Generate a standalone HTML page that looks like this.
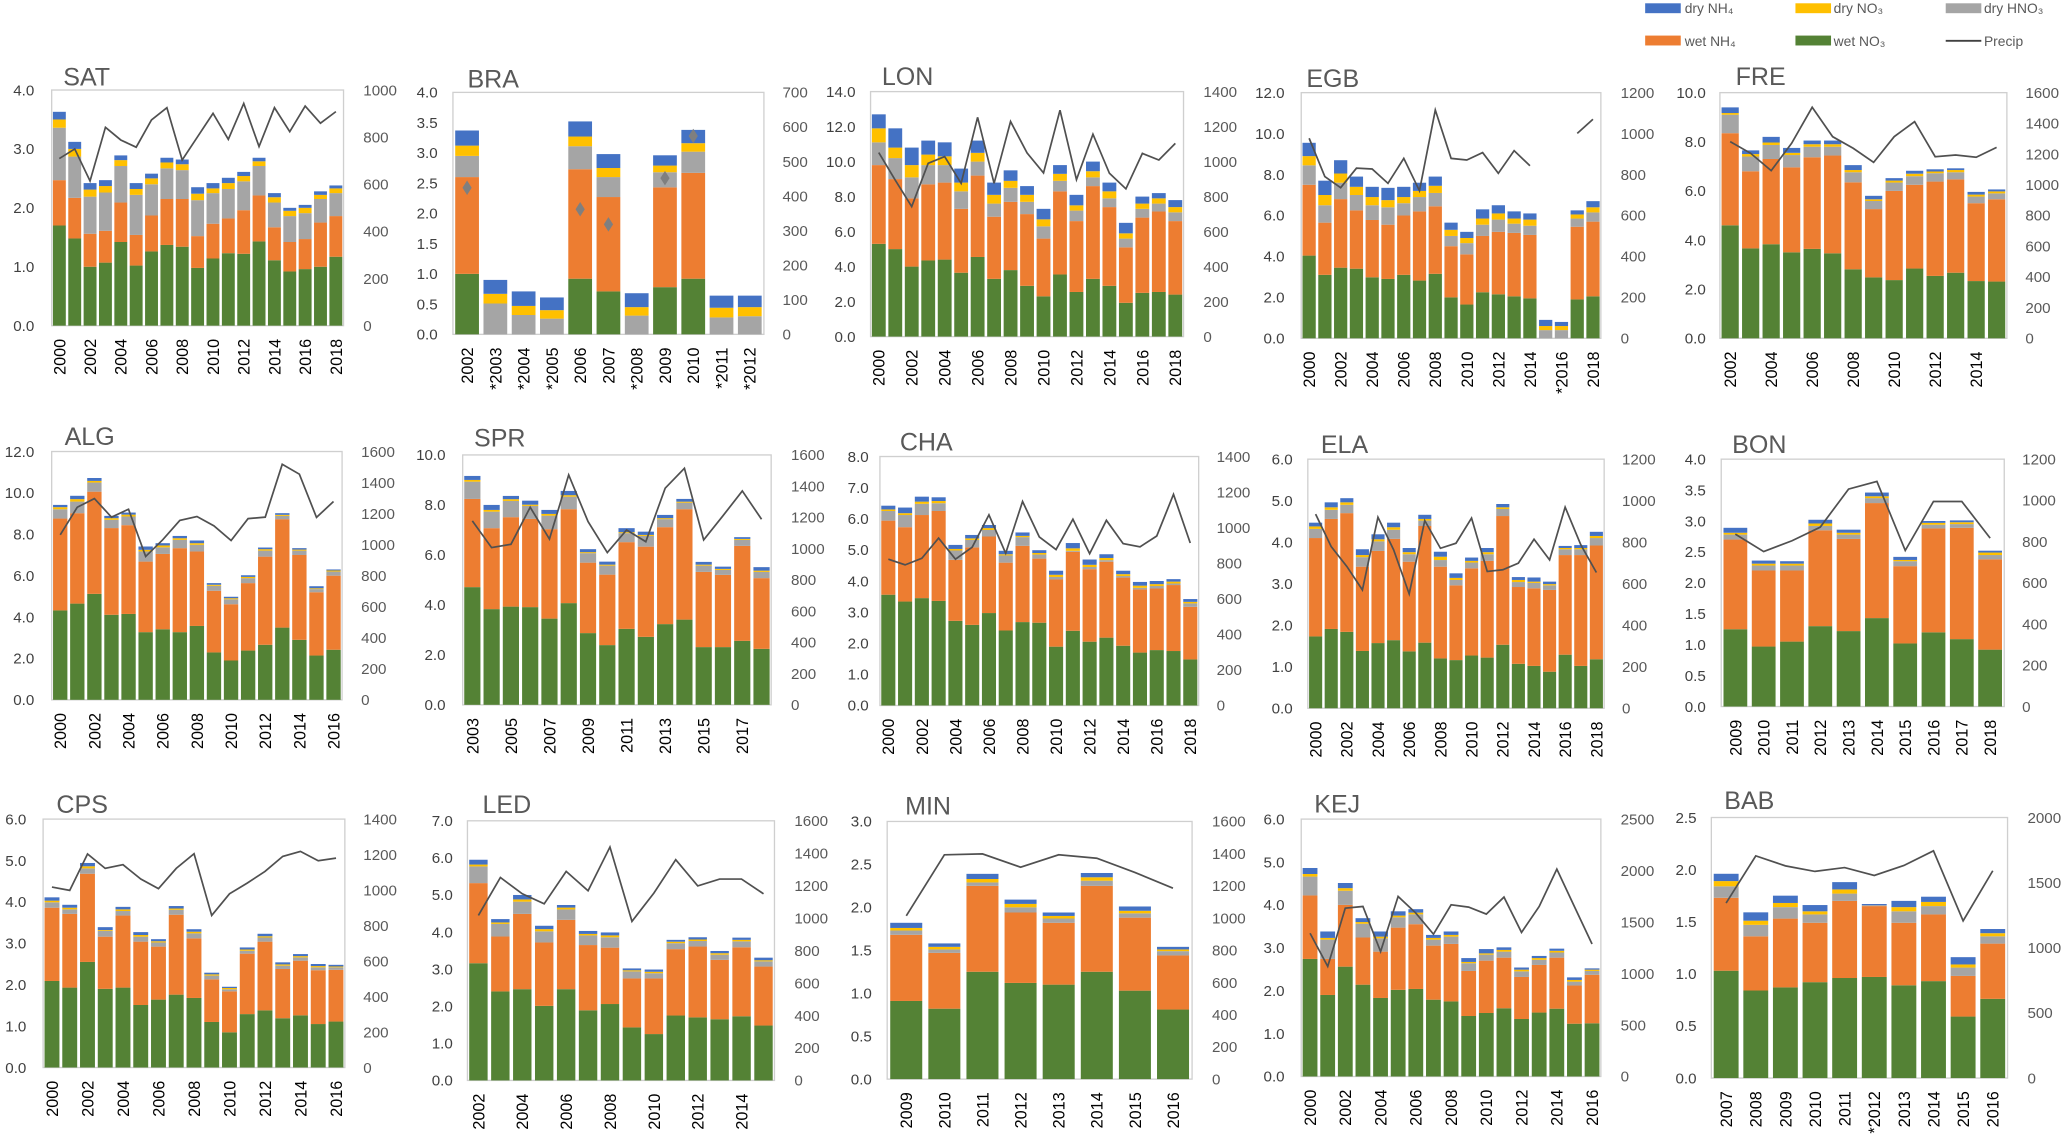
<!DOCTYPE html>
<html><head><meta charset="utf-8"><style>
html,body{margin:0;padding:0;background:#fff;}
svg{display:block;font-family:"Liberation Sans",sans-serif;}
</style></head><body>
<svg id="c" width="2067" height="1140" viewBox="0 0 1568 865" preserveAspectRatio="none" xmlns="http://www.w3.org/2000/svg">
<g font-size="10.5" fill="#595959">
<rect x="1248" y="2.5" width="27" height="7.5" fill="#4472C4"/>
<text x="1278" y="10">dry NH₄</text>
<rect x="1362" y="2.5" width="27" height="7.5" fill="#FFC000"/>
<text x="1391" y="10">dry NO₃</text>
<rect x="1476" y="2.5" width="27" height="7.5" fill="#A5A5A5"/>
<text x="1505" y="10">dry HNO₃</text>
<rect x="1248" y="27" width="27" height="7.5" fill="#ED7D31"/>
<text x="1278" y="35">wet NH₄</text>
<rect x="1362" y="27" width="27" height="7.5" fill="#548235"/>
<text x="1391" y="35">wet NO₃</text>
<line x1="1476" y1="31" x2="1503" y2="31" stroke="#404040" stroke-width="1.4"/>
<text x="1505" y="35">Precip</text>
</g>
</svg>
<script>
// Stack arrays are cumulative stack tops for: wet NO3, +wet NH4, +dry HNO3, +dry NO3, +dry NH4
const SAT_cat=["2000","2001","2002","2003","2004","2005","2006","2007","2008","2009","2010","2011","2012","2013","2014","2015","2016","2017","2018"];
const SAT_wno3=[1.7,1.48,1.0,1.07,1.42,1.02,1.26,1.37,1.34,0.98,1.14,1.23,1.22,1.43,1.11,0.92,0.96,1.0,1.17];
const SAT_wnh4=[2.47,2.17,1.56,1.61,2.09,1.54,1.87,2.15,2.15,1.52,1.73,1.82,1.96,2.21,1.67,1.42,1.47,1.75,1.86];
const SAT_dhno3=[3.36,2.87,2.19,2.26,2.71,2.22,2.40,2.67,2.64,2.13,2.25,2.32,2.45,2.71,2.09,1.86,1.91,2.15,2.25];
const SAT_dno3=[3.50,3.0,2.31,2.37,2.81,2.32,2.50,2.77,2.74,2.24,2.33,2.42,2.54,2.79,2.18,1.95,2.0,2.22,2.33];
const SAT_dnh4=[3.63,3.12,2.42,2.47,2.89,2.42,2.58,2.85,2.82,2.35,2.42,2.51,2.61,2.85,2.25,2.0,2.05,2.28,2.38];
const SAT_precip=[709,750,614,842,788,757,873,925,703,802,901,791,943,760,925,823,932,859,908];

const BRA_cat=["2002","*2003","*2004","*2005","2006","2007","*2008","2009","2010","*2011","*2012"];
const BRA_wno3=[1.0,0,0,0,0.92,0.71,0,0.78,0.92,0,0];
const BRA_wnh4=[2.6,0,0,0,2.73,2.27,0,2.43,2.67,0,0];
const BRA_dhno3=[2.95,0.51,0.32,0.26,3.11,2.6,0.31,2.68,3.02,0.28,0.3];
const BRA_dno3=[3.12,0.67,0.47,0.40,3.27,2.75,0.45,2.79,3.16,0.44,0.45];
const BRA_dnh4=[3.37,0.9,0.71,0.61,3.52,2.98,0.68,2.96,3.38,0.64,0.64];
const BRA_precip=[424,null,null,null,362,318,null,452,574,null,null];

const LON_cat=SAT_cat;
const LON_wno3=[5.3,5.0,4.0,4.35,4.4,3.65,4.55,3.3,3.8,2.9,2.3,3.55,2.55,3.3,2.9,1.93,2.5,2.55,2.4];
const LON_wnh4=[9.8,9.0,7.9,8.7,8.8,7.3,9.2,6.85,7.7,7.0,5.6,8.3,6.6,8.6,7.4,5.1,6.8,7.15,6.6];
const LON_dhno3=[11.1,10.2,9.1,9.8,9.8,8.3,10.0,7.6,8.5,7.7,6.3,8.9,7.2,9.1,7.9,5.6,7.3,7.6,7.1];
const LON_dno3=[11.9,10.8,9.8,10.4,10.3,8.8,10.5,8.1,8.9,8.1,6.7,9.3,7.5,9.45,8.3,5.9,7.6,7.9,7.4];
const LON_dnh4=[12.7,11.9,10.8,11.2,11.1,9.6,11.2,8.8,9.5,8.6,7.3,9.8,8.1,10.0,8.8,6.5,8.0,8.2,7.8];
const LON_precip=[1051,895,743,990,1029,876,1253,876,1229,1050,935,1294,897,1157,933,844,1047,1009,1104];

const EGB_cat=["2000","2001","2002","2003","2004","2005","2006","2007","2008","2009","2010","2011","2012","2013","2014","*2015","*2016","2017","2018"];
const EGB_wno3=[4.04,3.1,3.45,3.4,2.98,2.9,3.1,2.82,3.15,2.0,1.65,2.25,2.15,2.05,1.95,0,0,1.9,2.05];
const EGB_wnh4=[7.5,5.65,6.8,6.25,5.78,5.55,6.0,6.2,6.45,4.5,4.1,5.0,5.2,5.15,5.05,0,0,5.45,5.7];
const EGB_dhno3=[8.45,6.5,7.6,7.0,6.5,6.4,6.6,6.9,7.1,5.0,4.65,5.55,5.8,5.6,5.5,0.4,0.4,5.85,6.15];
const EGB_dno3=[8.9,7.0,8.05,7.4,6.9,6.75,6.9,7.2,7.45,5.3,4.9,5.85,6.1,5.85,5.8,0.6,0.6,6.05,6.4];
const EGB_dnh4=[9.55,7.7,8.7,7.9,7.4,7.35,7.4,7.6,7.9,5.65,5.2,6.3,6.5,6.2,6.1,0.9,0.8,6.25,6.7];
const EGB_precip=[977,790,736,831,827,757,879,721,1115,879,871,907,806,917,843,null,null,1001,1070];

const FRE_cat=["2002","2003","2004","2005","2006","2007","2008","2009","2010","2011","2012","2013","2014","2015"];
const FRE_wno3=[4.6,3.66,3.83,3.5,3.64,3.46,2.81,2.48,2.37,2.84,2.54,2.67,2.33,2.31];
const FRE_wnh4=[8.35,6.8,7.3,6.96,7.37,7.44,6.35,5.26,6.0,6.25,6.38,6.47,5.5,5.66];
const FRE_dhno3=[9.1,7.4,7.87,7.46,7.8,7.8,6.76,5.59,6.34,6.6,6.72,6.76,5.77,5.9];
const FRE_dno3=[9.17,7.5,7.97,7.55,7.9,7.9,6.85,5.66,6.42,6.7,6.79,6.85,5.85,5.98];
const FRE_dnh4=[9.4,7.65,8.2,7.75,8.05,8.05,7.05,5.8,6.52,6.82,6.88,6.92,5.96,6.06];
const FRE_precip=[1281,1205,1092,1270,1505,1313,1238,1146,1313,1411,1183,1194,1179,1244];

const ALG_cat=["2000","2001","2002","2003","2004","2005","2006","2007","2008","2009","2010","2011","2012","2013","2014","2015","2016"];
const ALG_wno3=[4.32,4.65,5.12,4.11,4.15,3.27,3.41,3.27,3.57,2.29,1.9,2.38,2.66,3.49,2.9,2.14,2.42];
const ALG_wnh4=[8.76,9.02,10.06,8.3,8.44,6.68,7.05,7.33,7.17,5.27,4.62,5.64,6.92,8.73,7.0,5.2,6.0];
const ALG_dhno3=[9.21,9.58,10.5,8.7,8.86,7.17,7.37,7.73,7.49,5.51,4.86,5.88,7.21,8.89,7.21,5.35,6.2];
const ALG_dno3=[9.31,9.7,10.58,8.78,8.95,7.25,7.46,7.81,7.57,5.56,4.91,5.94,7.28,8.94,7.26,5.39,6.25];
const ALG_dnh4=[9.42,9.86,10.72,8.89,9.05,7.41,7.57,7.92,7.7,5.64,4.98,6.02,7.36,9.02,7.33,5.49,6.3];
const ALG_precip=[1063,1241,1297,1177,1228,924,1031,1156,1181,1121,1027,1168,1177,1518,1454,1175,1278];

const SPR_cat=["2003","2004","2005","2006","2007","2008","2009","2010","2011","2012","2013","2014","2015","2016","2017","2018"];
const SPR_wno3=[4.71,3.83,3.93,3.91,3.45,4.07,2.87,2.39,3.04,2.72,3.23,3.41,2.31,2.31,2.56,2.24];
const SPR_wnh4=[8.24,7.07,7.51,7.44,7.03,7.83,5.69,5.21,6.51,6.33,7.11,7.83,5.32,5.2,6.36,5.07];
const SPR_dhno3=[8.93,7.73,8.16,7.96,7.57,8.33,6.07,5.57,6.87,6.76,7.43,8.09,5.57,5.4,6.6,5.32];
const SPR_dno3=[9.0,7.8,8.23,8.01,7.64,8.39,6.11,5.61,6.91,6.8,7.47,8.13,5.61,5.44,6.64,5.37];
const SPR_dnh4=[9.16,8.0,8.36,8.17,7.8,8.56,6.23,5.73,7.07,6.93,7.6,8.24,5.72,5.53,6.71,5.51];
const SPR_precip=[1178,1007,1028,1265,1062,1472,1173,975,1120,1045,1387,1515,1056,1210,1370,1188];

const CHA_cat=SAT_cat;
const CHA_wno3=[3.56,3.34,3.45,3.36,2.72,2.59,2.97,2.41,2.68,2.66,1.89,2.4,2.05,2.18,1.92,1.7,1.78,1.75,1.48];
const CHA_wnh4=[5.94,5.73,6.12,6.25,4.68,5.08,5.43,4.59,5.13,4.72,4.05,4.94,4.38,4.62,4.11,3.73,3.76,3.87,3.17];
const CHA_dhno3=[6.25,6.12,6.48,6.5,4.98,5.32,5.64,4.82,5.41,4.85,4.13,4.97,4.45,4.67,4.16,3.78,3.84,3.92,3.28];
const CHA_dno3=[6.3,6.18,6.55,6.57,5.03,5.37,5.7,4.86,5.45,4.9,4.2,5.05,4.52,4.74,4.22,3.85,3.9,3.98,3.33];
const CHA_dnh4=[6.42,6.36,6.71,6.69,5.16,5.48,5.8,4.97,5.56,4.99,4.33,5.22,4.69,4.86,4.33,3.97,4.0,4.06,3.42];
const CHA_precip=[823,791,828,941,823,890,1072,856,1147,948,877,1047,854,1041,910,892,953,1187,914];

const ELA_cat=SAT_cat;
const ELA_wno3=[1.73,1.91,1.84,1.38,1.57,1.64,1.37,1.58,1.2,1.16,1.27,1.22,1.53,1.07,1.02,0.88,1.29,1.02,1.18];
const ELA_wnh4=[4.1,4.56,4.7,3.41,3.79,4.08,3.53,4.39,3.41,2.96,3.37,3.55,4.63,2.92,2.89,2.85,3.69,3.69,3.92];
const ELA_dhno3=[4.32,4.78,4.9,3.64,4.02,4.3,3.71,4.52,3.57,3.09,3.51,3.71,4.8,3.04,3.02,2.96,3.83,3.83,4.1];
const ELA_dno3=[4.38,4.84,4.96,3.69,4.07,4.36,3.76,4.56,3.65,3.14,3.55,3.76,4.84,3.09,3.05,2.99,3.86,3.86,4.15];
const ELA_dnh4=[4.47,4.96,5.06,3.83,4.19,4.47,3.86,4.66,3.77,3.25,3.63,3.86,4.92,3.16,3.15,3.05,3.91,3.93,4.25];
const ELA_precip=[935,779,683,570,920,763,551,904,771,795,916,659,667,699,814,715,969,787,654];

const BON_cat=["2009","2010","2011","2012","2013","2014","2015","2016","2017","2018"];
const BON_wno3=[1.25,0.97,1.05,1.3,1.22,1.43,1.02,1.2,1.09,0.92];
const BON_wnh4=[2.7,2.2,2.2,2.85,2.71,3.29,2.27,2.88,2.89,2.38];
const BON_dhno3=[2.78,2.28,2.28,2.92,2.78,3.37,2.35,2.94,2.95,2.45];
const BON_dno3=[2.81,2.31,2.31,2.96,2.81,3.4,2.37,2.97,2.98,2.49];
const BON_dnh4=[2.89,2.36,2.35,3.02,2.86,3.46,2.42,3.0,3.01,2.52];
const BON_precip=[836,752,804,870,1055,1092,757,995,995,817];

const CPS_cat=ALG_cat;
const CPS_wno3=[2.09,1.93,2.55,1.9,1.93,1.51,1.64,1.76,1.68,1.1,0.85,1.29,1.38,1.19,1.26,1.05,1.11];
const CPS_wnh4=[3.86,3.71,4.68,3.16,3.67,3.04,2.92,3.69,3.12,2.13,1.84,2.75,3.04,2.38,2.58,2.35,2.36];
const CPS_dhno3=[3.99,3.82,4.81,3.3,3.78,3.16,3.02,3.81,3.24,2.22,1.89,2.82,3.14,2.46,2.66,2.42,2.42];
const CPS_dno3=[4.03,3.86,4.86,3.32,3.82,3.2,3.05,3.84,3.28,2.25,1.92,2.85,3.17,2.49,2.69,2.45,2.44];
const CPS_dnh4=[4.11,3.93,4.94,3.39,3.88,3.27,3.1,3.9,3.34,2.29,1.95,2.9,3.23,2.54,2.74,2.5,2.48];
const CPS_precip=[1017,998,1203,1122,1143,1062,1008,1122,1205,857,979,1039,1105,1190,1218,1165,1180];

const LED_cat=["2002","2003","2004","2005","2006","2007","2008","2009","2010","2011","2012","2013","2014","2015"];
const LED_wno3=[3.16,2.4,2.46,2.01,2.46,1.89,2.06,1.43,1.25,1.75,1.7,1.65,1.73,1.48];
const LED_wnh4=[5.32,3.88,4.49,3.72,4.33,3.65,3.58,2.75,2.75,3.54,3.61,3.25,3.59,3.07];
const LED_dhno3=[5.77,4.22,4.82,4.02,4.61,3.91,3.86,2.94,2.89,3.7,3.76,3.39,3.75,3.21];
const LED_dno3=[5.82,4.26,4.88,4.08,4.66,3.95,3.91,2.97,2.93,3.74,3.8,3.43,3.79,3.24];
const LED_dnh4=[5.95,4.35,5.0,4.17,4.73,4.03,3.99,3.02,2.99,3.79,3.86,3.49,3.85,3.31];
const LED_precip=[1017,1251,1150,1088,1288,1169,1438,980,1154,1360,1199,1241,1241,1150];

const MIN_cat=["2009","2010","2011","2012","2013","2014","2015","2016"];
const MIN_wno3=[0.91,0.82,1.25,1.12,1.1,1.25,1.03,0.81];
const MIN_wnh4=[1.68,1.47,2.25,1.94,1.82,2.25,1.88,1.44];
const MIN_dhno3=[1.73,1.51,2.29,2.0,1.87,2.31,1.93,1.49];
const MIN_dno3=[1.76,1.54,2.33,2.04,1.9,2.35,1.96,1.51];
const MIN_dnh4=[1.82,1.58,2.39,2.09,1.94,2.4,2.01,1.54];
const MIN_precip=[1014,1393,1399,1316,1393,1372,1283,1186];

const KEJ_cat=ALG_cat;
const KEJ_wno3=[2.74,1.9,2.56,2.14,1.83,2.02,2.04,1.79,1.75,1.41,1.48,1.59,1.34,1.49,1.58,1.23,1.24];
const KEJ_wnh4=[4.22,2.74,4.0,3.24,2.91,3.47,3.55,3.05,3.09,2.46,2.7,2.77,2.32,2.6,2.77,2.12,2.37];
const KEJ_dhno3=[4.66,3.19,4.33,3.56,3.22,3.71,3.78,3.19,3.26,2.64,2.84,2.91,2.45,2.72,2.89,2.21,2.46];
const KEJ_dno3=[4.72,3.23,4.39,3.6,3.26,3.75,3.82,3.23,3.3,2.67,2.87,2.95,2.49,2.76,2.93,2.25,2.49];
const KEJ_dnh4=[4.86,3.38,4.51,3.69,3.38,3.85,3.9,3.3,3.38,2.76,2.97,3.01,2.54,2.81,2.98,2.31,2.52];
const KEJ_precip=[1392,1069,1635,1651,1214,1749,1587,1383,1668,1645,1577,1742,1399,1651,2014,1651,1286];

const BAB_cat=["2007","2008","2009","2010","2011","*2012","2013","2014","2015","2016"];
const BAB_wno3=[1.03,0.84,0.87,0.92,0.96,0.97,0.89,0.93,0.59,0.76];
const BAB_wnh4=[1.73,1.36,1.53,1.49,1.7,1.65,1.49,1.57,0.98,1.29];
const BAB_dhno3=[1.84,1.47,1.64,1.57,1.77,1.66,1.6,1.65,1.06,1.36];
const BAB_dno3=[1.89,1.51,1.68,1.6,1.81,1.66,1.64,1.69,1.09,1.39];
const BAB_dnh4=[1.96,1.59,1.75,1.66,1.88,1.67,1.7,1.74,1.16,1.43];
const BAB_precip=[1343,1706,1629,1586,1616,1555,1632,1744,1207,1591];

const COLORS=["#548235","#ED7D31","#A5A5A5","#FFC000","#4472C4"];
const LAYER_NAMES=["wet-no3","wet-nh4","dry-hno3","dry-no3","dry-nh4"];

const panels=[
 {n:"SAT",cat:SAT_cat,s:[SAT_wno3,SAT_wnh4,SAT_dhno3,SAT_dno3,SAT_dnh4],p:SAT_precip,x0:39.2,x1:260.6,yT:68.3,yB:247.1,lmax:4,lstep:1,rmax:1000,rstep:200,lL:26,rL:275.6,tx:48,ty:65,ls:2},
 {n:"BRA",cat:BRA_cat,s:[BRA_wno3,BRA_wnh4,BRA_dhno3,BRA_dno3,BRA_dnh4],p:BRA_precip,x0:343.6,x1:579.5,yT:70.1,yB:253.7,lmax:4,lstep:0.5,rmax:700,rstep:100,lL:332,rL:593.6,tx:354.6,ty:66.5,ls:1,marker:true},
 {n:"LON",cat:LON_cat,s:[LON_wno3,LON_wnh4,LON_dhno3,LON_dno3,LON_dnh4],p:LON_precip,x0:660.4,x1:897.8,yT:69.5,yB:255.4,lmax:14,lstep:2,rmax:1400,rstep:200,lL:649,rL:912.9,tx:669,ty:64.5,ls:2},
 {n:"EGB",cat:EGB_cat,s:[EGB_wno3,EGB_wnh4,EGB_dhno3,EGB_dno3,EGB_dnh4],p:EGB_precip,x0:987.1,x1:1214.4,yT:70.3,yB:256.7,lmax:12,lstep:2,rmax:1200,rstep:200,lL:974.5,rL:1229.4,tx:991,ty:66,ls:2},
 {n:"FRE",cat:FRE_cat,s:[FRE_wno3,FRE_wnh4,FRE_dhno3,FRE_dno3,FRE_dnh4],p:FRE_precip,x0:1304.7,x1:1522.4,yT:70.3,yB:256.7,lmax:10,lstep:2,rmax:1600,rstep:200,lL:1294,rL:1536.4,tx:1316.6,ty:64.5,ls:2},
 {n:"ALG",cat:ALG_cat,s:[ALG_wno3,ALG_wnh4,ALG_dhno3,ALG_dno3,ALG_dnh4],p:ALG_precip,x0:39.2,x1:259.5,yT:342.6,yB:531.0,lmax:12,lstep:2,rmax:1600,rstep:200,lL:26,rL:274,tx:49,ty:337.6,ls:2},
 {n:"SPR",cat:SPR_cat,s:[SPR_wno3,SPR_wnh4,SPR_dhno3,SPR_dno3,SPR_dnh4],p:SPR_precip,x0:351,x1:585,yT:345.2,yB:534.8,lmax:10,lstep:2,rmax:1600,rstep:200,lL:338,rL:600,tx:359.6,ty:338.8,ls:2},
 {n:"CHA",cat:CHA_cat,s:[CHA_wno3,CHA_wnh4,CHA_dhno3,CHA_dno3,CHA_dnh4],p:CHA_precip,x0:667.5,x1:909.3,yT:346.4,yB:535.3,lmax:8,lstep:1,rmax:1400,rstep:200,lL:659,rL:922.9,tx:682.6,ty:341.9,ls:2},
 {n:"ELA",cat:ELA_cat,s:[ELA_wno3,ELA_wnh4,ELA_dhno3,ELA_dno3,ELA_dnh4],p:ELA_precip,x0:992.1,x1:1216.9,yT:348.4,yB:537.4,lmax:6,lstep:1,rmax:1200,rstep:200,lL:980.6,rL:1230.4,tx:1002,ty:343.9,ls:2},
 {n:"BON",cat:BON_cat,s:[BON_wno3,BON_wnh4,BON_dhno3,BON_dno3,BON_dnh4],p:BON_precip,x0:1305.7,x1:1520.4,yT:348.4,yB:536.1,lmax:4,lstep:0.5,rmax:1200,rstep:200,lL:1294,rL:1534,tx:1314,ty:343.9,ls:1},
 {n:"CPS",cat:CPS_cat,s:[CPS_wno3,CPS_wnh4,CPS_dhno3,CPS_dno3,CPS_dnh4],p:CPS_precip,x0:32.7,x1:261.6,yT:621.5,yB:810.0,lmax:6,lstep:1,rmax:1400,rstep:200,lL:20,rL:275.6,tx:42.8,ty:617,ls:2},
 {n:"LED",cat:LED_cat,s:[LED_wno3,LED_wnh4,LED_dhno3,LED_dno3,LED_dnh4],p:LED_precip,x0:354.6,x1:587.5,yT:622.8,yB:819.8,lmax:7,lstep:1,rmax:1600,rstep:200,lL:343.5,rL:602.6,tx:366,ty:617,ls:2},
 {n:"MIN",cat:MIN_cat,s:[MIN_wno3,MIN_wnh4,MIN_dhno3,MIN_dno3,MIN_dnh4],p:MIN_precip,x0:673,x1:904.3,yT:623.3,yB:818.8,lmax:3,lstep:0.5,rmax:1600,rstep:200,lL:661.4,rL:919.4,tx:686.6,ty:618.2,ls:1},
 {n:"KEJ",cat:KEJ_cat,s:[KEJ_wno3,KEJ_wnh4,KEJ_dhno3,KEJ_dno3,KEJ_dnh4],p:KEJ_precip,x0:987.1,x1:1214.4,yT:621.5,yB:816.8,lmax:6,lstep:1,rmax:2500,rstep:500,lL:974.5,rL:1229.4,tx:997,ty:616.5,ls:2},
 {n:"BAB",cat:BAB_cat,s:[BAB_wno3,BAB_wnh4,BAB_dhno3,BAB_dno3,BAB_dnh4],p:BAB_precip,x0:1298.2,x1:1522.9,yT:620.3,yB:818.0,lmax:2.5,lstep:0.5,rmax:2000,rstep:500,lL:1287,rL:1538,tx:1308,ty:614,ls:1}
];

const NS="http://www.w3.org/2000/svg";
const svg=document.getElementById("c");
function mk(parent,tag,attrs,txt){
  const e=document.createElementNS(NS,tag);
  for(const k in attrs)e.setAttribute(k,attrs[k]);
  if(txt!==undefined)e.textContent=txt;
  parent.appendChild(e);return e;
}
panels.forEach(P=>{
  const key=P.n.toLowerCase();
  const g=mk(svg,"g",{});
  
  
  const n=P.cat.length;
  const slot=(P.x1-P.x0)/n;
  const bw=slot*0.84;
  const yL=v=>P.yB-(v/P.lmax)*(P.yB-P.yT);
  const yR=v=>P.yB-(v/P.rmax)*(P.yB-P.yT);
  const xC=i=>P.x0+slot*(i+0.5);
  const frame=mk(g,"rect",{x:P.x0,y:P.yT,width:P.x1-P.x0,height:P.yB-P.yT,fill:"none",stroke:"#CFCFCF","stroke-width":1});
  
  
  const title=mk(g,"text",{x:P.tx,y:P.ty,"font-size":19,fill:"#595959"},P.n);
  
  
  // left ticks
  const nl=Math.round(P.lmax/P.lstep);
  for(let k=0;k<=nl;k++){
    const v=k*P.lstep;
    const t=mk(g,"text",{x:P.lL,y:yL(v)+4,"font-size":11.5,fill:"#404040","text-anchor":"end"},v.toFixed(1));
    
    
  }
  const nr=Math.round(P.rmax/P.rstep);
  for(let k=0;k<=nr;k++){
    const v=k*P.rstep;
    const t=mk(g,"text",{x:P.rL,y:yR(v)+4,"font-size":11.5,fill:"#595959"},String(v));
    
    
  }
  // bars
  for(let i=0;i<n;i++){
    let prev=0;
    for(let L=0;L<5;L++){
      const top=P.s[L][i];
      if(top>prev){
        const r=mk(g,"rect",{x:xC(i)-bw/2,y:yL(top),width:bw,height:yL(prev)-yL(top),fill:COLORS[L]});
        
        
        prev=top;
      }
    }
    if(i%P.ls===0){
      const lx=xC(i)+4.5, ly=P.yB+10;
      const t=mk(g,"text",{x:lx,y:ly,"font-size":12.3,fill:"#000","text-anchor":"end",transform:"rotate(-90 "+lx+" "+ly+")"},P.cat[i]);
      
      
    }
  }
  // precip
  if(P.marker){
    for(let i=0;i<n;i++){
      if(P.p[i]==null)continue;
      const cx=xC(i),cy=yR(P.p[i]);
      const d=mk(g,"path",{d:`M${cx} ${cy-5.5}L${cx+3.5} ${cy}L${cx} ${cy+5.5}L${cx-3.5} ${cy}Z`,fill:"#7F7F7F"});
      
      
    }
  } else {
    let d="",pen=false;
    for(let i=0;i<n;i++){
      if(P.p[i]==null){pen=false;continue;}
      d+=(pen?"L":"M")+xC(i).toFixed(1)+" "+yR(P.p[i]).toFixed(1);
      pen=true;
    }
    const ln=mk(g,"path",{d:d,fill:"none",stroke:"#505050","stroke-width":1.3});
    
    
  }
});
</script>
</body></html>
